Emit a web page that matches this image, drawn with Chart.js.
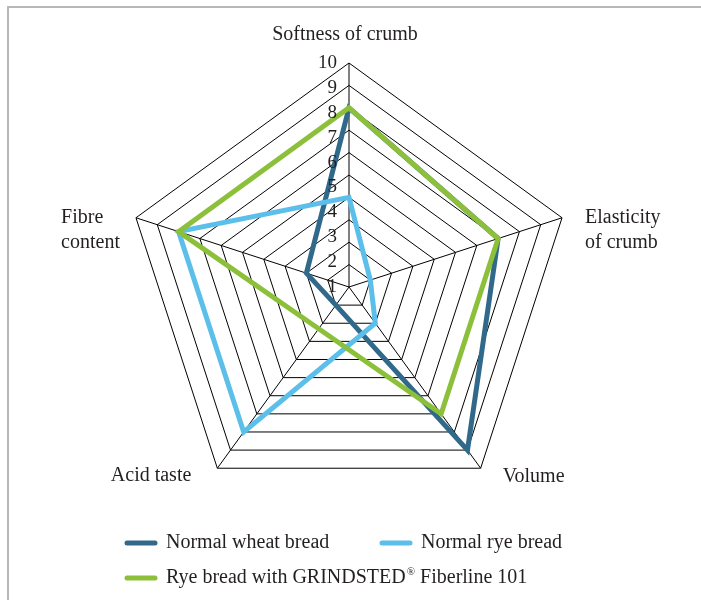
<!DOCTYPE html>
<html>
<head>
<meta charset="utf-8">
<script src="https://cdn.jsdelivr.net/npm/chart.js@4/dist/chart.umd.min.js"></script>
<style>
  html, body { margin: 0; padding: 0; background: #fff; }
  #wrap { position: relative; width: 701px; height: 600px; overflow: hidden; }
  #frame { position: absolute; left: 7px; top: 6px; width: 720px; height: 620px; border-left: 2px solid #b8b8b8; border-top: 2px solid #b8b8b8; }
  canvas { position: absolute; left: 0; top: 0; }
</style>
</head>
<body>
<div id="wrap">
  <div id="frame"></div>
  <canvas id="radar" width="701" height="600"></canvas>
</div>
<script>
// axes and series
const axisLabels = [['Softness of crumb'], ['Elasticity', 'of crumb'], ['Volume'], ['Acid taste'], ['Fibre', 'content']];
const seriesNames = ['Normal wheat bread', 'Normal rye bread', 'Rye bread with GRINDSTED\u00ae Fiberline 101'];
const wheatValues = [8, 7, 9, 1, 2];
const ryeValues = [4, 1, 2, 8, 8];
const fiberlineValues = [8, 7, 7, 2.3, 8];
const tickValues = [1, 2, 3, 4, 5, 6, 7, 8, 9, 10];

const colors = ['#31698a', '#5bbfea', '#8cc03a'];
const font = '"Liberation Serif", "DejaVu Serif", serif';

// writes text, with the ® sign raised and smaller
function fillWithMark(ctx, text, x, y, size) {
  const parts = text.split('\u00ae');
  let cx = x;
  parts.forEach((p, i) => {
    ctx.font = size + 'px ' + font;
    ctx.fillText(p, cx, y);
    cx += ctx.measureText(p).width;
    if (i < parts.length - 1) {
      ctx.font = Math.round(size * 0.55) + 'px ' + font;
      ctx.fillText('\u00ae', cx + 1, y - size * 0.3);
      cx += ctx.measureText('\u00ae').width + 1;
    }
  });
}

// labels, ticks and legend drawn by hand so they sit like in the original
const labelPlugin = {
  id: 'labelPlugin',
  afterDraw(chart) {
    const ctx = chart.ctx;
    const scale = chart.scales.r;
    const r = scale.drawingArea;
    ctx.save();
    ctx.fillStyle = '#231f20';
    ctx.font = '20px ' + font;
    ctx.textBaseline = 'middle';

    // point labels
    axisLabels.forEach((lines, i) => {
      const p = scale.getPointPosition(i, r);
      let x = p.x, y = p.y, align = 'left';
      if (i === 0) { align = 'center'; y -= 28; x -= 4; }
      if (i === 1) { x += 23; }
      if (i === 2) { x += 22; y += 9; }
      if (i === 3) { align = 'right'; x -= 26; y += 8; }
      if (i === 4) {
        const w = Math.max(...lines.map(l => ctx.measureText(l).width));
        x = x - 16 - w;
      }
      ctx.textAlign = align;
      lines.forEach((l, k) => ctx.fillText(l, x, y + k * 25));
    });

    // tick labels, spread from the centre up to the top ring
    ctx.font = '19px ' + font;
    ctx.textAlign = 'right';
    const top = tickValues[tickValues.length - 1];
    tickValues.forEach(v => {
      const d = scale.getDistanceFromCenterForValue((v - 1) * top / (top - 1));
      ctx.fillText(String(v), scale.xCenter - 12, scale.yCenter - d);
    });

    // legend
    const slots = [[125, 543], [380, 543], [125, 578]];
    ctx.textAlign = 'left';
    chart.data.datasets.forEach((ds, i) => {
      const [lx, ly] = slots[i];
      ctx.strokeStyle = ds.borderColor;
      ctx.lineWidth = 5;
      ctx.lineCap = 'round';
      ctx.beginPath();
      ctx.moveTo(lx + 2, ly);
      ctx.lineTo(lx + 30, ly);
      ctx.stroke();
      fillWithMark(ctx, ds.label, lx + 41, ly, 20);
    });
    ctx.restore();
  }
};

const ctx = document.getElementById('radar').getContext('2d');
new Chart(ctx, {
  type: 'radar',
  data: {
    labels: axisLabels,
    datasets: [
      { label: seriesNames[0], data: wheatValues, borderColor: colors[0], order: 2 },
      { label: seriesNames[1], data: ryeValues, borderColor: colors[1], order: 1 },
      { label: seriesNames[2], data: fiberlineValues, borderColor: colors[2], order: 0 }
    ]
  },
  options: {
    responsive: false,
    animation: false,
    layout: { padding: { left: 125, right: 128, top: 63, bottom: 89 } },
    elements: {
      line: { borderWidth: 5, tension: 0, fill: false, borderJoinStyle: 'miter' },
      point: { radius: 0, hoverRadius: 0 }
    },
    scales: {
      r: {
        min: 0,
        max: 10,
        ticks: { stepSize: 1, display: false },
        pointLabels: { display: false },
        grid: { color: '#000', lineWidth: 1 },
        angleLines: { color: '#000', lineWidth: 1 }
      }
    },
    plugins: {
      legend: { display: false },
      tooltip: { enabled: false }
    }
  },
  plugins: [labelPlugin]
});
</script>
</body>
</html>
